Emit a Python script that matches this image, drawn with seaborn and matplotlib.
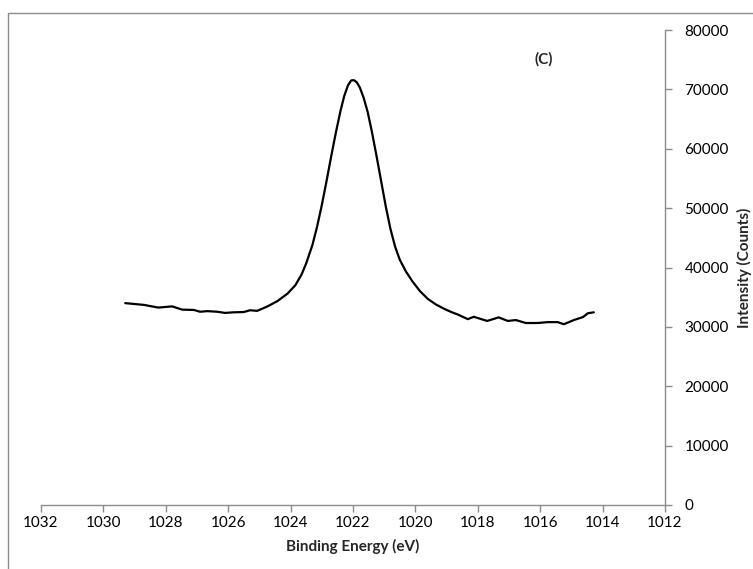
import matplotlib
matplotlib.use("Agg")
import matplotlib.pyplot as plt
import seaborn as sns
import pandas as pd
from matplotlib.patches import Rectangle

energy = [1029.3, 1028.7, 1028.24, 1027.8, 1027.47, 1027.1, 1026.9, 1026.67, 1026.35, 1026.1,
          1025.84, 1025.5, 1025.3, 1025.07, 1024.74, 1024.42, 1024.1, 1023.85, 1023.65, 1023.5,
          1023.3, 1023.15, 1023.0, 1022.85, 1022.7, 1022.55, 1022.4, 1022.28, 1022.16, 1022.06,
          1021.97, 1021.88, 1021.78, 1021.66, 1021.53, 1021.4, 1021.25, 1021.1, 1020.95, 1020.8,
          1020.65, 1020.5, 1020.3, 1020.1, 1019.85, 1019.6, 1019.35, 1019.1, 1018.85, 1018.65,
          1018.32, 1018.13, 1017.7, 1017.33, 1017.04, 1016.78, 1016.46, 1016.08, 1015.76, 1015.44,
          1015.24, 1014.92, 1014.63, 1014.47, 1014.28]
intensity = [34000, 33700, 33250, 33450, 32900, 32850, 32550, 32650, 32550, 32350,
             32450, 32500, 32800, 32700, 33450, 34350, 35600, 37000, 38800, 40700,
             43800, 46900, 50500, 54500, 58700, 62700, 66400, 68900, 70700, 71500,
             71550, 71200, 70300, 68600, 66200, 63000, 58900, 54600, 50300, 46500,
             43500, 41300, 39300, 37700, 36000, 34700, 33800, 33100, 32500, 32100,
             31300, 31700, 31000, 31600, 31000, 31150, 30650, 30650, 30800, 30800,
             30450, 31150, 31650, 32300, 32450]
x_ticks = [1032, 1030, 1028, 1026, 1024, 1022, 1020, 1018, 1016, 1014, 1012]
y_ticks = [0, 10000, 20000, 30000, 40000, 50000, 60000, 70000, 80000]

sns.set_theme(style="white")
plt.rcParams['font.family'] = ['Lato', 'DejaVu Sans']

df = pd.DataFrame({"Binding Energy (eV)": energy, "Intensity (Counts)": intensity})

fig = plt.figure(figsize=(7.53, 5.69), dpi=100)
ax = fig.add_axes([41/753, 1 - 505/569, (665-41)/753, (505-30)/569])

sns.lineplot(data=df, x="Binding Energy (eV)", y="Intensity (Counts)", ax=ax,
             color="black", linewidth=1.6, sort=False)
ax.lines[0].set_solid_joinstyle("round")

ax.set_xlim(1032, 1012)
ax.set_ylim(0, 80000)
ax.set_xticks(x_ticks)
ax.set_xticklabels([str(v) for v in x_ticks])
ax.set_yticks(y_ticks)
ax.set_yticklabels([str(v) for v in y_ticks])
ax.yaxis.tick_right()
ax.yaxis.set_label_position("right")

for s in ["top", "left"]:
    ax.spines[s].set_visible(False)
for s in ["bottom", "right"]:
    ax.spines[s].set_visible(True)
    ax.spines[s].set_color("#8c8c8c")
    ax.spines[s].set_linewidth(1.0)

ax.tick_params(axis="both", which="both", direction="out", length=5, width=1.0,
               color="#8c8c8c", labelsize=11, labelcolor="black")
ax.tick_params(axis="x", bottom=True, pad=3)
ax.tick_params(axis="y", right=True, left=False, pad=9)

ax.set_xlabel("Binding Energy (eV)", fontsize=11, fontweight="bold", labelpad=6)
ax.set_ylabel("Intensity (Counts)", fontsize=11, fontweight="bold", labelpad=6)

ax.text(1015.9, 75000, "(C)", fontsize=11, fontweight="bold", ha="center", va="center")

fig.patches.append(Rectangle((8/753, -0.01), 1.0, 1 - 13/569 + 0.01, transform=fig.transFigure,
                             fill=False, edgecolor="#8c8c8c", linewidth=1.0, zorder=0))

fig.savefig("out.png", dpi=100)
